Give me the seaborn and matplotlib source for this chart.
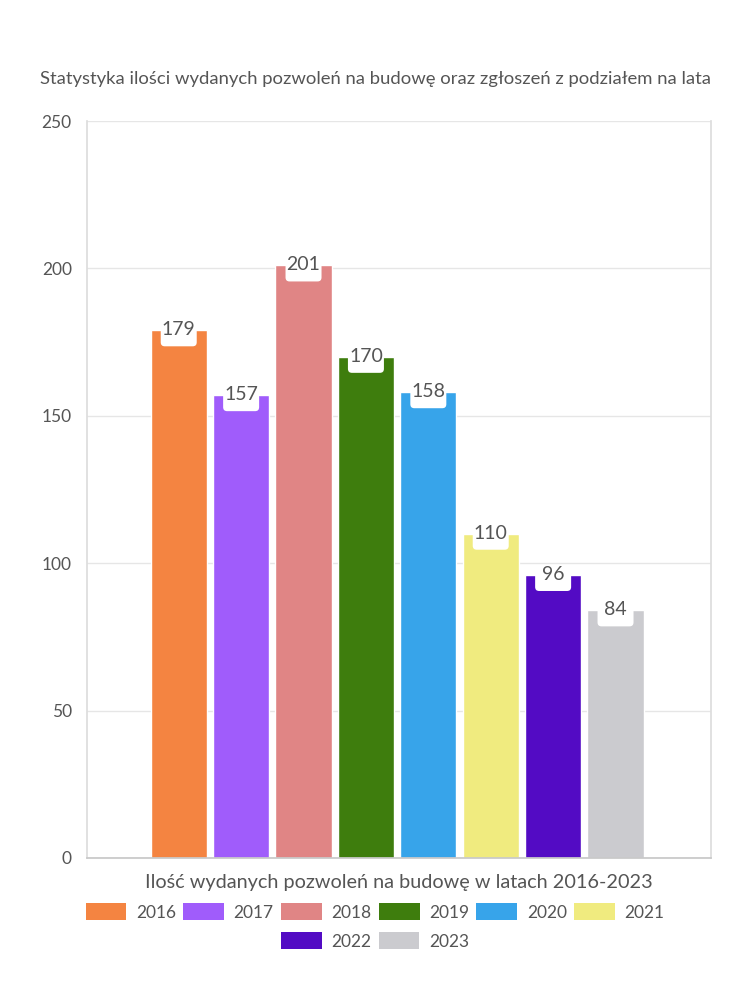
import matplotlib
matplotlib.use("Agg")
import matplotlib.pyplot as plt
import matplotlib.transforms as mtransforms
from matplotlib.patches import Patch, FancyBboxPatch
import seaborn as sns
import pandas as pd

years = ["2016", "2017", "2018", "2019", "2020", "2021", "2022", "2023"]
values = [179, 157, 201, 170, 158, 110, 96, 84]
colors = ["#F48441", "#A05CFB", "#E08585", "#3E7D0D", "#37A4EA", "#F0EB7F", "#530BC4", "#CBCBCF"]
title = "Statystyka ilości wydanych pozwoleń na budowę oraz zgłoszeń z podziałem na lata"
xlabel = "Ilość wydanych pozwoleń na budowę w latach 2016-2023"
yticks = [0, 50, 100, 150, 200, 250]

sns.set_theme(style="white")
plt.rcParams["font.family"] = ["Lato", "DejaVu Sans"]

df = pd.DataFrame({"group": ["g"] * len(years), "year": years, "value": values})

fig = plt.figure(figsize=(7.5, 10), dpi=100)
ax = fig.add_axes([0.116, 0.142, 0.832, 0.737])

sns.barplot(data=df, x="group", y="value", hue="year", palette=colors,
            width=0.8, gap=0.1, ax=ax, legend=False, saturation=1)

xl = (-0.497, 0.503)
ax.set_xlim(*xl)
ax.set_ylim(0, 250)
ax.set_yticks(yticks)
ax.set_yticklabels([str(t) for t in yticks], color="#555555", fontsize=12.5)
ax.set_xticks(list(xl))
ax.set_xticklabels(["", ""])
ax.tick_params(axis="x", length=6, color="#dddddd", width=1)
ax.tick_params(axis="y", length=8, color="#dddddd", width=1, pad=3)
ax.yaxis.grid(True, color="#e6e6e6", linewidth=1)
ax.set_axisbelow(True)
for s in ["left", "right"]:
    ax.spines[s].set_color("#dddddd")
ax.spines["bottom"].set_color("#c8c8c8")
ax.spines["top"].set_visible(False)
ax.set_ylabel("")
ax.set_xlabel(xlabel, fontsize=14.3, color="#555555", labelpad=2)

# value labels with white tab boxes hanging from the bar tops
for bar, v in zip(ax.patches, values):
    x = bar.get_x() + bar.get_width() / 2
    h = bar.get_height()
    trans = fig.dpi_scale_trans + mtransforms.ScaledTranslation(x, h, ax.transData)
    box = FancyBboxPatch((-0.14, -0.12), 0.28, 0.12,
                         boxstyle="round,pad=0.04", transform=trans,
                         facecolor="white", edgecolor="none", zorder=3)
    ax.add_artist(box)
    ax.annotate(str(v), (x, h), xytext=(0, 0.5), textcoords="offset points",
                ha="center", va="center", fontsize=14, color="#555555", zorder=4)

fig.text(0.5, 0.921, title, ha="center", va="center", fontsize=13.3, color="#555555")

handles = [Patch(facecolor=c, edgecolor="none") for c in colors]
leg_kw = dict(frameon=False, fontsize=12.5, handlelength=2.35, handleheight=1.15,
              handletextpad=0.55, columnspacing=0.42, labelcolor="#555555")
leg1 = fig.legend(handles[:6], years[:6], ncol=6, loc="center",
                  bbox_to_anchor=(0.5, 0.088), **leg_kw)
leg2 = fig.legend(handles[6:], years[6:], ncol=2, loc="center",
                  bbox_to_anchor=(0.5, 0.059), **leg_kw)

fig.savefig("out.png", dpi=100, facecolor="white")
